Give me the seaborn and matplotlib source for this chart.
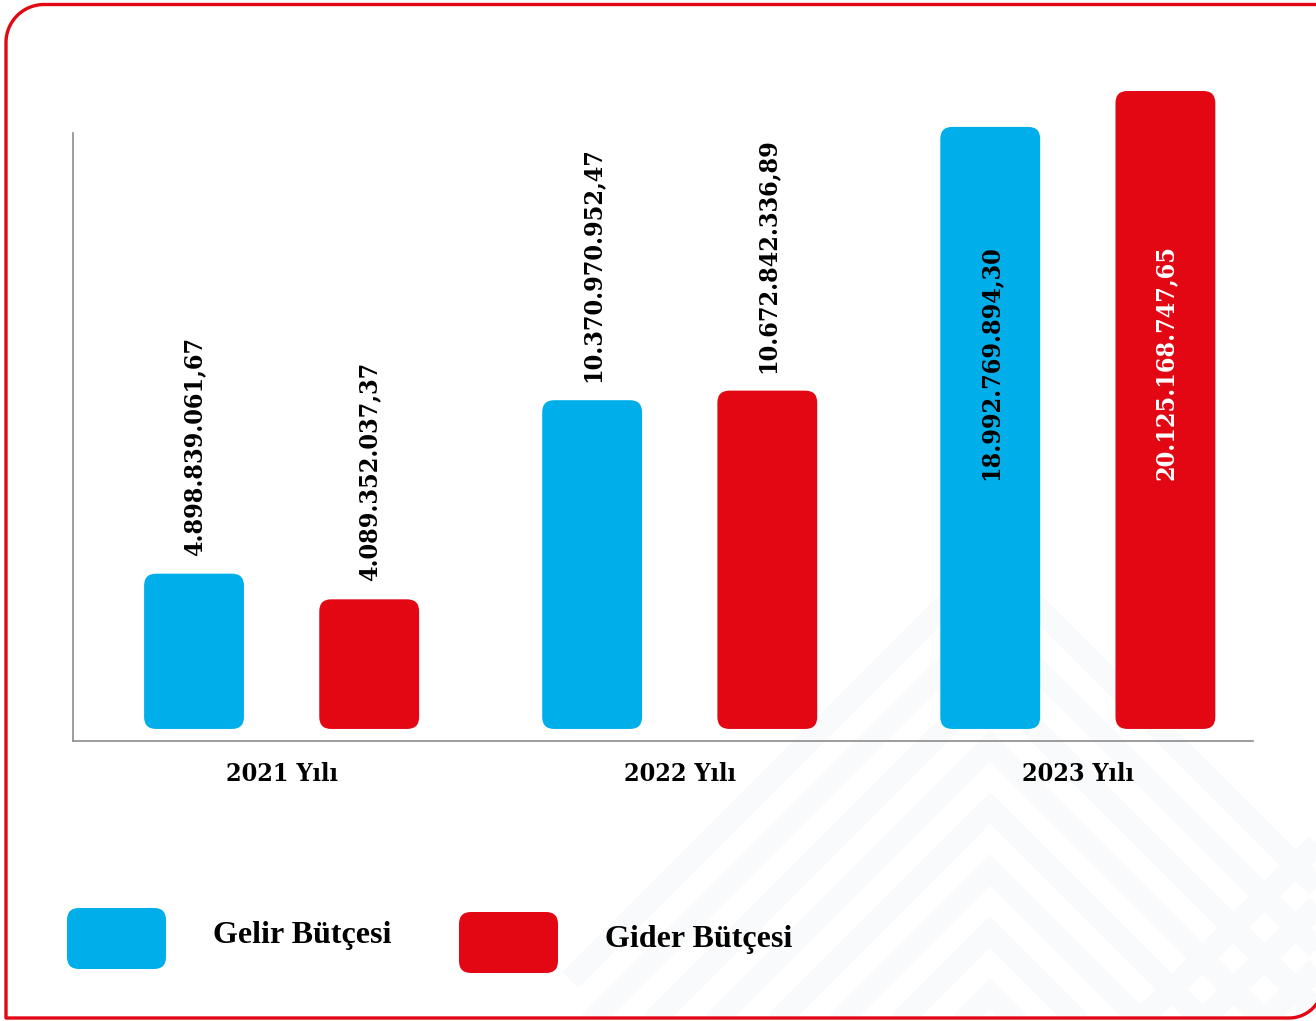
import numpy as np
import pandas as pd
import seaborn as sns
import matplotlib.pyplot as plt
from matplotlib.patches import FancyBboxPatch, Rectangle

# --- data ---
years = ['2021 Yılı', '2022 Yılı', '2023 Yılı']
series = ['Gelir Bütçesi', 'Gider Bütçesi']
gelir = [4898839061.67, 10370970952.47, 18992769894.30]
gider = [4089352037.37, 10672842336.89, 20125168747.65]
gelir_labels = ['4.898.839.061,67', '10.370.970.952,47', '18.992.769.894,30']
gider_labels = ['4.089.352.037,37', '10.672.842.336,89', '20.125.168.747,65']
colors = ['#00aee9', '#e30613']

W, H = 1316, 1021

sns.set_theme(style='white')
plt.rcParams['font.family'] = ['Liberation Serif', 'DejaVu Serif']
plt.rcParams['text.color'] = 'black'
plt.rcParams['xtick.color'] = 'black'

num_font = dict(family=['DejaVu Serif'], stretch='condensed', fontweight='bold')

df = pd.DataFrame({
    'year': years * 2,
    'type': [series[0]] * 3 + [series[1]] * 3,
    'value': gelir + gider,
    'label': gelir_labels + gider_labels,
})

fig = plt.figure(figsize=(W / 100, H / 100), dpi=100)
fig.patch.set_facecolor('white')


def px(x, y):
    # reference pixel -> figure fraction
    return np.asarray(x) / W, 1 - np.asarray(y) / H


# frame geometry (reference pixels)
r1, r2 = 38, 34
fl, ft, fr, fb = 6, 4.5, 1323, 1018

# very faint chevron pattern in the lower right, kept inside the frame
clip = Rectangle(px(fl, fb), (W - fl) / W, (fb - ft) / H,
                 transform=fig.transFigure, visible=False)
fig.add_artist(clip)
bg = '#f9fafb'
pattern = []
for k in range(8):
    ay = 560 + 62 * k
    pattern.append(([990 - 420, 990, 990 + 420], [ay + 420, ay, ay + 420]))
for k in range(6):
    x0 = 1140 + 62 * k
    pattern.append(([x0, x0 + 600], [1021, 421]))
for xs, ys in pattern:
    fx, fy = px(xs, ys)
    ln = plt.Line2D(fx, fy, transform=fig.transFigure, color=bg, lw=16,
                    solid_joinstyle='miter', solid_capstyle='butt', zorder=0)
    fig.add_artist(ln)
    ln.set_clip_path(clip)

# axes box in pixel terms of the reference
ax_l, ax_r, ax_t, ax_b = 73, 1253, 133, 741
ax = fig.add_axes([ax_l / W, 1 - ax_b / H, (ax_r - ax_l) / W, (ax_b - ax_t) / H])
ax.set_facecolor('none')
ax.set_zorder(2)

sns.barplot(data=df, x='year', y='value', hue='type', hue_order=series,
            palette=colors, saturation=1, width=0.88, gap=0.43,
            legend=False, ax=ax)

xlim = (-0.524, 2.44)
ylim = (-0.38e9, 18.8e9)
ax.set_xlim(*xlim)
ax.set_ylim(*ylim)

# swap plain bars for rounded ones
xpp = (xlim[1] - xlim[0]) / (ax_r - ax_l)
ypp = (ylim[1] - ylim[0]) / (ax_b - ax_t)
radius = 12 * xpp
aspect = ypp / xpp

bars = list(ax.patches)
for p, (_, row) in zip(bars, df.iterrows()):
    x0, w, h = p.get_x(), p.get_width(), p.get_height()
    rb = FancyBboxPatch((x0, 0), w, h,
                        boxstyle=f'round,pad=0,rounding_size={radius}',
                        mutation_aspect=aspect, fc=p.get_facecolor(),
                        ec='none', clip_on=False, zorder=2)
    ax.add_patch(rb)
    p.set_visible(False)

    cx = x0 + w / 2
    if row['value'] > 15e9:
        # big bars: label sits inside
        tc = 'white' if row['type'] == series[1] else 'black'
        ax.annotate(row['label'], (cx, 0), xytext=(0, 179), textcoords='offset points',
                    rotation=90, ha='center', va='bottom', fontsize=18,
                    color=tc, zorder=3, annotation_clip=False, **num_font)
    else:
        ax.annotate(row['label'], (cx, h), xytext=(0, 13), textcoords='offset points',
                    rotation=90, ha='center', va='bottom', fontsize=18,
                    color='black', zorder=3, annotation_clip=False, **num_font)

ax.set_xlabel('')
ax.set_ylabel('')
ax.set_yticks([])
ax.tick_params(axis='x', length=0, pad=15, labelsize=18, labelcolor='black')
for t in ax.get_xticklabels():
    t.set_family(['DejaVu Serif'])
    t.set_stretch('condensed')
    t.set_fontweight('bold')

sns.despine(ax=ax)
for s in ['left', 'bottom']:
    ax.spines[s].set_color('#8c8c8c')
    ax.spines[s].set_linewidth(1.2)

# --- legend drawn by hand (rounded swatches) ---
for i, (name, col) in enumerate(zip(series, colors)):
    bx = 67 + 392 * i
    by = 908 + 4 * i
    sw = FancyBboxPatch(px(bx, by + 61), 99 / W, 61 / H,
                        boxstyle=f'round,pad=0,rounding_size={12 / W}',
                        mutation_aspect=W / H, transform=fig.transFigure,
                        fc=col, ec='none')
    fig.add_artist(sw)
    tx, ty = px(bx + 146, by + 27)
    fig.text(tx, ty, name, fontsize=23, fontweight='bold', color='black',
             ha='left', va='center')

# red frame: rounded top-left and bottom-right corners, runs off the right edge
a1 = np.linspace(np.pi / 2, np.pi, 30)
a2 = np.linspace(-np.pi / 2, 0, 30)
xs = np.concatenate([[W + 20], fl + r1 + r1 * np.cos(a1), [fl, fr - r2],
                     fr - r2 + r2 * np.cos(a2), [fr]])
ys = np.concatenate([[ft], ft + r1 - r1 * np.sin(a1), [fb, fb],
                     fb - r2 - r2 * np.sin(a2), [-20]])
fx, fy = px(xs, ys)
fig.add_artist(plt.Line2D(fx, fy, transform=fig.transFigure, color='#e30613',
                          lw=2.4, solid_joinstyle='round', zorder=5))

fig.savefig('out.png', dpi=100)
